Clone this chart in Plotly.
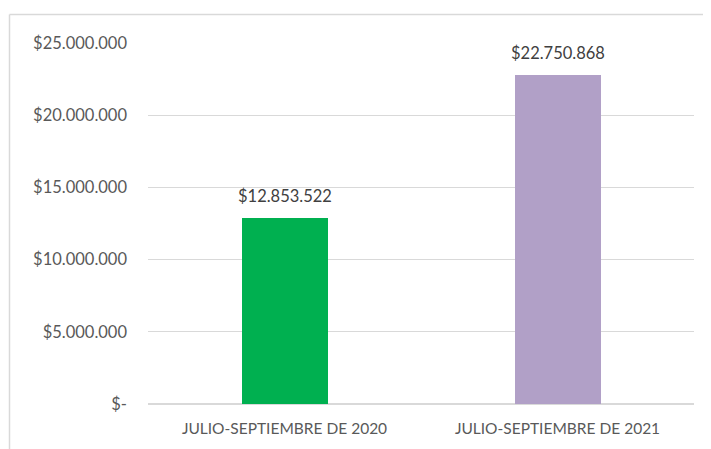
import plotly.graph_objects as go

categories = ["JULIO-SEPTIEMBRE DE 2020", "JULIO-SEPTIEMBRE DE 2021"]
values = [12853522, 22750868]
colors = ["#00B050", "#B1A0C7"]
tick_vals = [0, 5000000, 10000000, 15000000, 20000000, 25000000]
tick_text = ["$-", "$5.000.000", "$10.000.000", "$15.000.000", "$20.000.000", "$25.000.000"]

labels = ["$" + f"{v:,}".replace(",", ".") for v in values]

# page has an 8px body margin, so figure is offset by 8px
OFF = 8
W, H = 703, 441
ml, mr, mt, mb = 140, 17, 35, 45
pw, ph = W - ml - mr, H - mt - mb

FONT = "Lato, Open Sans, sans-serif"

fig = go.Figure(go.Bar(
    x=categories, y=values, marker=dict(color=colors, line=dict(width=0)),
    width=0.315,
))

for c, v, t in zip(categories, values, labels):
    fig.add_annotation(x=c, y=v, text=t, showarrow=False, yanchor="bottom",
                       yshift=10, font=dict(family=FONT, size=16.5, color="#404040"))

def px_x(p):
    return (p - OFF - ml) / pw

def px_y(p):
    return (H - mb - (p - OFF)) / ph

border = "#D9D9D9"
fig.add_shape(type="line", xref="paper", yref="paper",
              x0=px_x(9.5), x1=px_x(9.5), y0=px_y(470), y1=px_y(14.5),
              line=dict(color=border, width=1.5))
fig.add_shape(type="line", xref="paper", yref="paper",
              x0=px_x(9.5), x1=px_x(730), y0=px_y(14.5), y1=px_y(14.5),
              line=dict(color=border, width=1.5))

fig.update_layout(
    width=W, height=H, margin=dict(l=ml, r=mr, t=mt, b=mb),
    plot_bgcolor="white", paper_bgcolor="white", showlegend=False,
    font=dict(family=FONT, size=16, color="#595959"),
    bargap=0,
)
fig.update_yaxes(range=[0, 25000000], tickvals=tick_vals, ticktext=tick_text,
                 showgrid=True, gridcolor="#D9D9D9", gridwidth=1,
                 zeroline=True, zerolinecolor="#D9D9D9", zerolinewidth=1.5,
                 showline=False, ticks="", ticklabelstandoff=20,
                 tickfont=dict(size=16.5, color="#595959"))
fig.update_xaxes(showline=False, ticks="", showgrid=False, ticklabelstandoff=13,
                 tickfont=dict(size=15.5, color="#595959"))

fig.write_html("out.html")
